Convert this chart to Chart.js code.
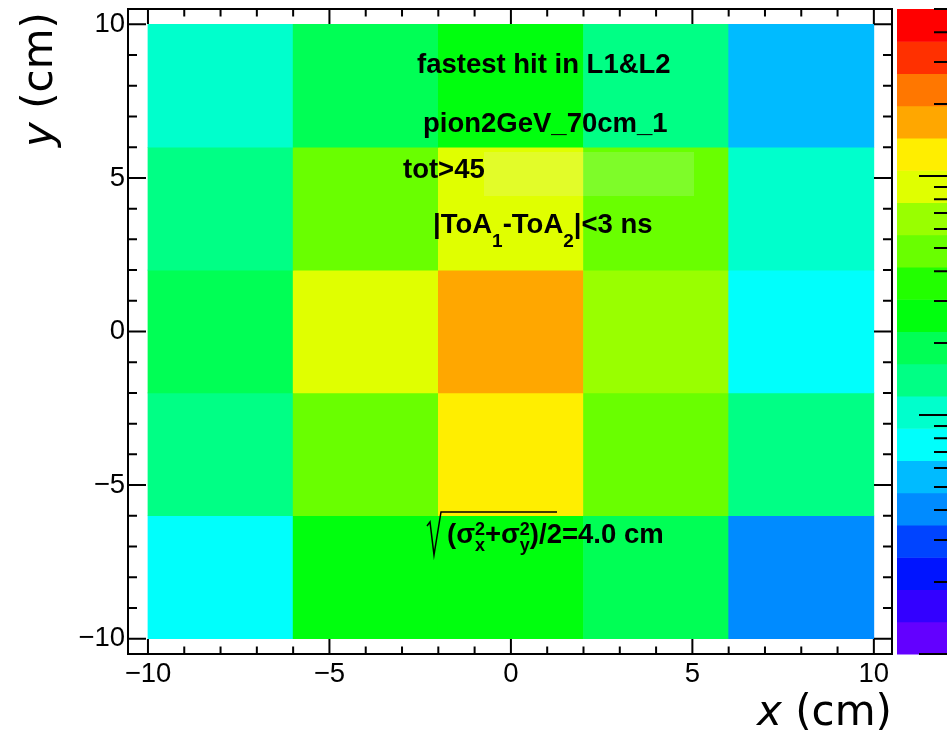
<!DOCTYPE html>
<html>
<head>
<meta charset="utf-8">
<script src="https://cdn.jsdelivr.net/npm/chart.js@4.4.1/dist/chart.umd.min.js"></script>
<style>
  html, body { margin: 0; padding: 0; background: #fff; overflow: hidden; }
</style>
</head>
<body>
<canvas id="c" width="947" height="735"></canvas>
<script>
// bin edges of the 2D histogram
const xEdges = [-10, -6, -2, 2, 6, 10];
const yEdges = [-10, -6, -2, 2, 6, 10];
// counts per y bin (bottom to top), listed along x
const countsYm8 = [8, 26, 26, 19, 4];
const countsYm4 = [14, 48, 120, 48, 14];
const countsY0 = [19, 90, 165, 65, 8];
const countsY4 = [14, 48, 90, 48, 10];
const countsY8 = [10, 19, 26, 14, 6];
const xTicks = [-10, -5, 0, 5, 10];
const yTicks = [-10, -5, 0, 5, 10];
const zMin = 1, zMax = 500;
const zMajor = [1, 10, 100];
const zMinor = [2, 3, 4, 5, 6, 7, 8, 9, 20, 30, 40, 50, 60, 70, 80, 90, 200, 300, 400, 500];

// ROOT "pretty" palette, 20 contours
const nCont = 20;
const palette = [];
for (let k = 0; k < nCont; k++) {
  const idx = Math.floor((k + 0.99) * 50 / nCont);
  palette.push(idx >= 49 ? 'hsl(0,100%,50%)' : `hsl(${280 - (idx + 1) * 5.6},100%,50%)`);
}
function colorFor(v) {
  let k = Math.floor(nCont * Math.log(v / zMin) / Math.log(zMax / zMin));
  return palette[Math.max(0, Math.min(nCont - 1, k))];
}

const rows = [countsYm8, countsYm4, countsY0, countsY4, countsY8];
const cells = [];
rows.forEach((row, j) => row.forEach((v, i) => {
  cells.push({ x: (xEdges[i] + xEdges[i + 1]) / 2, y: [yEdges[j], yEdges[j + 1]], v });
}));

const fmt = v => (v < 0 ? '\u2212' + Math.abs(v) : String(v));
const tickFont = { family: 'Liberation Sans', size: 27.5 };
const B = 'bold 27.5px "Liberation Sans"';
const Bs = 'bold 18px "Liberation Sans"';
const Bsub = 'bold 19px "Liberation Sans"';

function runs(ctx, x, base, list) {
  for (const r of list) {
    if (r.stack) {
      let w = 0;
      for (const s of r.stack) {
        ctx.font = s.font;
        ctx.fillText(s.t, x, base + s.dy);
        w = Math.max(w, ctx.measureText(s.t).width);
      }
      x += w;
    } else {
      ctx.font = r.font || B;
      ctx.fillText(r.t, x, base + (r.dy || 0));
      x += ctx.measureText(r.t).width;
    }
  }
  return x;
}

const rootFrame = {
  id: 'rootFrame',
  afterDatasetsDraw(chart) {
    const { ctx, chartArea: a, scales: { x, y, z } } = chart;
    ctx.save();
    // translucent box behind tot>45 line
    ctx.fillStyle = 'rgba(235,238,255,0.16)';
    ctx.fillRect(484, 152, 210, 44);

    ctx.strokeStyle = '#000';
    ctx.lineWidth = 2;
    ctx.beginPath();
    for (let v = -10; v <= 10; v++) {
      const px = x.getPixelForValue(v);
      const len = v % 5 === 0 ? 15 : 7.5;
      ctx.moveTo(px, a.bottom); ctx.lineTo(px, a.bottom - len);
      ctx.moveTo(px, a.top); ctx.lineTo(px, a.top + len);
      const py = y.getPixelForValue(v);
      const ly = v % 5 === 0 ? 18 : 9;
      ctx.moveTo(a.left, py); ctx.lineTo(a.left + ly, py);
      ctx.moveTo(a.right, py); ctx.lineTo(a.right - ly, py);
    }
    ctx.stroke();
    ctx.strokeRect(a.left, a.top, a.right - a.left, a.bottom - a.top);

    // colour palette
    const pl = a.right + 5, pr = chart.width + 2;
    for (let k = 0; k < nCont; k++) {
      const lo = zMin * Math.pow(zMax / zMin, k / nCont);
      const hi = zMin * Math.pow(zMax / zMin, (k + 1) / nCont);
      const y0 = z.getPixelForValue(lo), y1 = z.getPixelForValue(hi);
      ctx.fillStyle = palette[k];
      ctx.fillRect(pl, y1, pr - pl, y0 - y1 + 0.5);
    }
    ctx.beginPath();
    const zr = chart.width;
    zMajor.forEach(v => { const p = z.getPixelForValue(v); ctx.moveTo(zr, p); ctx.lineTo(zr - 28, p); });
    zMinor.forEach(v => { const p = z.getPixelForValue(v); ctx.moveTo(zr, p); ctx.lineTo(zr - 13, p); });
    ctx.stroke();

    // annotations
    ctx.fillStyle = '#000';
    ctx.textBaseline = 'alphabetic';
    ctx.textAlign = 'left';
    runs(ctx, 417, 73, [{ t: 'fastest hit in L1&L2' }]);
    runs(ctx, 423, 132, [{ t: 'pion2GeV_70cm_1' }]);
    runs(ctx, 403, 178, [{ t: 'tot>45' }]);
    runs(ctx, 433, 233, [
      { t: '|ToA' }, { t: '1', font: Bsub, dy: 14 },
      { t: '-ToA' }, { t: '2', font: Bsub, dy: 14 },
      { t: '|<3 ns' }
    ]);
    runs(ctx, 447, 543, [
      { t: '(\u03c3' },
      { stack: [{ t: '2', font: Bs, dy: -8 }, { t: 'x', font: Bs, dy: 8 }] },
      { t: '+\u03c3' },
      { stack: [{ t: '2', font: Bs, dy: -8 }, { t: 'y', font: Bs, dy: 8 }] },
      { t: ')/2=4.0 cm' }
    ]);
    ctx.lineWidth = 1.5;
    ctx.beginPath();
    ctx.moveTo(427, 526); ctx.lineTo(430, 522); ctx.lineTo(434, 555); ctx.lineTo(441, 512); ctx.lineTo(557, 512);
    ctx.stroke();

    // axis titles
    const tf = '42px "DejaVu Sans"', tfi = 'oblique 42px "DejaVu Sans"';
    ctx.font = tfi; const wx = ctx.measureText('x').width;
    ctx.font = tf; const wr = ctx.measureText(' (cm)').width;
    ctx.font = tfi; ctx.fillText('x', a.right - wx - wr, 725);
    ctx.font = tf; ctx.fillText(' (cm)', a.right - wr, 725);
    ctx.translate(52, 12);
    ctx.rotate(-Math.PI / 2);
    ctx.font = tfi; ctx.fillText('y', -wx - wr, 0);
    ctx.font = tf; ctx.fillText(' (cm)', -wr, 0);
    ctx.restore();
  }
};

new Chart(document.getElementById('c'), {
  type: 'bar',
  data: {
    datasets: [{
      data: cells,
      backgroundColor: c => colorFor(c.raw.v),
      borderWidth: 0,
      barPercentage: 1,
      categoryPercentage: 1
    }]
  },
  options: {
    responsive: false,
    animation: false,
    layout: { padding: { top: 9, right: 55, left: 0, bottom: 0 } },
    plugins: { legend: { display: false }, tooltip: { enabled: false } },
    scales: {
      x: {
        type: 'linear', min: -10.55, max: 10.5, offset: false,
        grid: { display: false, drawTicks: false, tickLength: 0 },
        border: { display: false },
        afterBuildTicks: s => { s.ticks = xTicks.map(v => ({ value: v })); },
        afterFit: s => { s.height = 81; s.paddingLeft = 0; s.paddingRight = 0; },
        ticks: { font: tickFont, color: '#000', padding: 4, maxRotation: 0, autoSkip: false, callback: fmt }
      },
      y: {
        type: 'linear', min: -10.5, max: 10.5,
        grid: { display: false, drawTicks: false, tickLength: 0 },
        border: { display: false },
        afterBuildTicks: s => { s.ticks = yTicks.map(v => ({ value: v })); },
        afterFit: s => { s.width = 128; s.paddingTop = 0; s.paddingBottom = 0; },
        ticks: { font: tickFont, color: '#000', padding: 3, autoSkip: false, callback: fmt }
      },
      z: {
        type: 'logarithmic', position: 'right', display: false, min: zMin, max: zMax
      }
    }
  },
  plugins: [rootFrame]
});
</script>
</body>
</html>
